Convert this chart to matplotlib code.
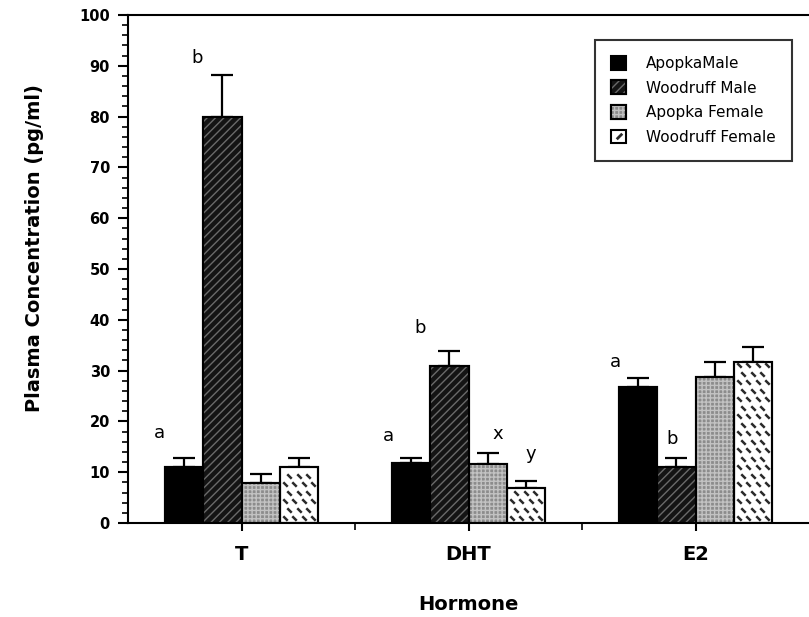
import warnings
import numpy as np
import matplotlib
matplotlib.use("Agg")
import matplotlib.pyplot as plt
from matplotlib.path import Path
from matplotlib.patches import Patch
from matplotlib.lines import Line2D
from matplotlib.legend_handler import HandlerTuple
from matplotlib.ticker import MultipleLocator, FixedLocator

warnings.filterwarnings("ignore")

# ---------------- data ----------------
hormones = ["T", "DHT", "E2"]
series = ["ApopkaMale", "Woodruff Male", "Apopka Female", "Woodruff Female"]
apopka_male = [11.0, 11.8, 26.8]
woodruff_male = [80.0, 30.9, 11.0]
apopka_female = [7.9, 11.6, 28.7]
woodruff_female = [11.0, 6.9, 31.7]
err_apopka_male = [1.8, 1.0, 1.7]
err_woodruff_male = [8.2, 3.0, 1.8]
err_apopka_female = [1.7, 2.2, 3.0]
err_woodruff_female = [1.8, 1.4, 2.9]
# significance letters: (hormone index, series index, letter)
sig_letters = [(0, 0, "a"), (0, 1, "b"), (1, 0, "a"), (1, 1, "b"),
               (1, 2, "x"), (1, 3, "y"), (2, 0, "a"), (2, 1, "b")]
y_label = "Plasma Concentration (pg/ml)"
x_label = "Hormone"

plt.rcParams["font.family"] = ["DejaVu Sans"]
plt.rcParams["hatch.linewidth"] = 1.0

fig = plt.figure(figsize=(8.09, 6.17), dpi=100)
ax = fig.add_axes([128 / 809, 94 / 617, 1 - 128 / 809, 508 / 617])
ax.set_xlim(-0.5, 2.5)
ax.set_ylim(0, 100)

x = np.arange(len(hormones))
width = 0.169
values = [apopka_male, woodruff_male, apopka_female, woodruff_female]
errors = [err_apopka_male, err_woodruff_male, err_apopka_female, err_woodruff_female]
faces = ["#000000", "#141414", "#8c8c8c", "#ffffff"]
hatches = [None, "////", "++++", None]
hatch_cols = [None, "#6a6a6a", "#c2c2c2", None]

dash_marker = Path([[-1, 1], [1, -1]], [Path.MOVETO, Path.LINETO])
dash_color = "#2a2a2a"

for i, (vals, errs) in enumerate(zip(values, errors)):
    pos = x + (i - 1.5) * width
    bars = ax.bar(pos, vals, width, color=faces[i], edgecolor="black",
                  linewidth=1.5, zorder=2)
    if hatches[i]:
        ax.bar(pos, vals, width, fill=False, hatch=hatches[i],
               edgecolor=hatch_cols[i], linewidth=0, zorder=2.5)
    if i == 3:
        # short-dash fill pattern, laid out in pixel space inside each bar
        inv = ax.transData.inverted()
        for bar in bars:
            (px0, py0) = ax.transData.transform((bar.get_x(), 0))
            (px1, py1) = ax.transData.transform((bar.get_x() + bar.get_width(),
                                                 bar.get_height()))
            pts = []
            r = 0
            py = py0 + 5
            while py < py1 - 2:
                px = px0 + 5 + (4.5 if r % 2 else 0)
                while px < px1 - 3:
                    pts.append((px, py))
                    px += 9.5
                py += 8.5
                r += 1
            if pts:
                d = inv.transform(np.array(pts))
                ax.plot(d[:, 0], d[:, 1], ls="none", marker=dash_marker,
                        ms=3.2, mew=1.8, color=dash_color, zorder=2.4,
                        clip_path=bar)
    ax.bar(pos, vals, width, fill=False, edgecolor="black",
           linewidth=1.5, zorder=2.6)
    ax.errorbar(pos, vals, yerr=[np.zeros(len(errs)), errs], fmt="none",
                ecolor="black", elinewidth=1.6, capsize=8, capthick=1.6,
                zorder=1.5)

# significance letters
letter_offsets = {(0, 0): (-25, 16), (0, 1): (-25, 8), (1, 0): (-23, 13),
                  (1, 1): (-29, 14), (1, 2): (10, 10), (1, 3): (5, 18),
                  (2, 0): (-23, 7), (2, 1): (-4, 10)}
for (h, s, letter) in sig_letters:
    px = x[h] + (s - 1.5) * width
    py = values[s][h] + errors[s][h]
    dx, dy = letter_offsets[(h, s)]
    ax.annotate(letter, (px, py), xytext=(dx, dy), textcoords="offset pixels",
                ha="center", va="bottom", fontsize=13)

ax.yaxis.set_major_locator(MultipleLocator(10))
ax.yaxis.set_minor_locator(MultipleLocator(2))
ax.xaxis.set_major_locator(FixedLocator(x))
ax.xaxis.set_minor_locator(FixedLocator([0.5, 1.5]))
ax.set_xticklabels(hormones, fontsize=14, fontweight="bold")
for lab in ax.get_yticklabels():
    lab.set_fontweight("bold")
    lab.set_fontsize(10.5)
ax.tick_params(axis="y", which="major", direction="out", length=7, width=1.5, pad=6)
ax.tick_params(axis="y", which="minor", direction="out", length=4, width=1.2)
ax.tick_params(axis="x", which="major", direction="out", length=6, width=1.5, pad=10)
ax.tick_params(axis="x", which="minor", direction="out", length=5, width=1.2)

for sp in ["left", "bottom", "top"]:
    ax.spines[sp].set_linewidth(1.5)
ax.spines["right"].set_visible(False)

ax.set_ylabel(y_label, fontsize=14, fontweight="bold")
ax.yaxis.set_label_coords(-0.124, 0.541)
ax.set_xlabel(x_label, fontsize=14, fontweight="bold", labelpad=22)

# legend handles mimicking the fills
h_am = Patch(facecolor=faces[0], edgecolor="black", linewidth=1.5)
h_wm = (Patch(facecolor=faces[1], edgecolor="black", linewidth=1.5),
        Patch(fill=False, hatch="////", edgecolor=hatch_cols[1], linewidth=0),
        Patch(fill=False, edgecolor="black", linewidth=1.5))
h_af = (Patch(facecolor=faces[2], edgecolor="black", linewidth=1.5),
        Patch(fill=False, hatch="++++", edgecolor=hatch_cols[2], linewidth=0),
        Patch(fill=False, edgecolor="black", linewidth=1.5))
h_wf = (Patch(facecolor=faces[3], edgecolor="black", linewidth=1.5),
        Line2D([], [], ls="none", marker=Path([[-1, -1], [1, 1]], [Path.MOVETO, Path.LINETO]),
               ms=4, mew=2, color=dash_color))
leg = ax.legend([h_am, h_wm, h_af, h_wf], series,
                handler_map={tuple: HandlerTuple(ndivide=1, pad=0)},
                loc="upper right", bbox_to_anchor=(0.975, 0.951),
                borderaxespad=0, fontsize=11, frameon=True, fancybox=False,
                edgecolor="black", handlelength=1.0, handleheight=1.0,
                labelspacing=0.62, borderpad=1.05, handletextpad=1.3)
leg.get_frame().set_linewidth(1.5)

fig.savefig("out.png", dpi=100)
